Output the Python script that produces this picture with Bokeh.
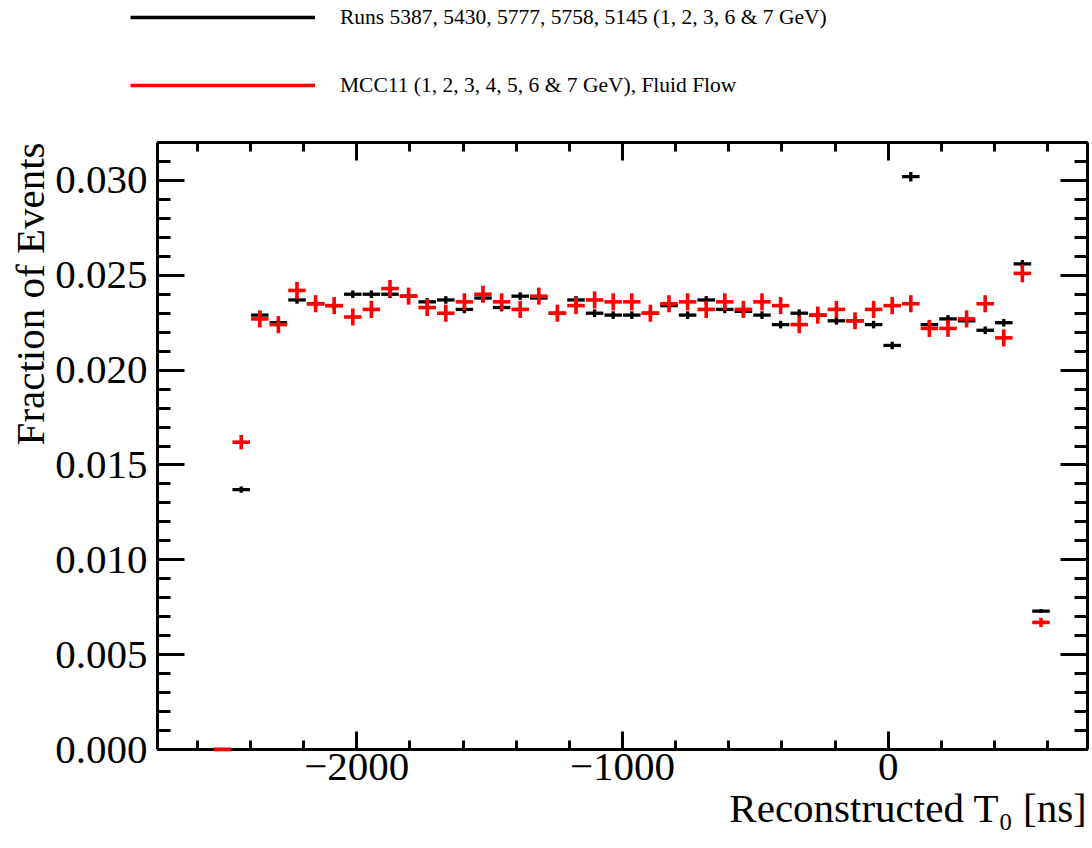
import numpy as np
from bokeh.plotting import figure
from bokeh.models import (Range1d, FixedTicker, LinearAxis, NumeralTickFormatter,
                          Title, Legend, LegendItem, ColumnDataSource, CustomLabelingPolicy)
from bokeh.embed import file_html
from bokeh.resources import INLINE

# ---------------- data ----------------
bin_centers = [-2505, -2435, -2365, -2295, -2225, -2155, -2085, -2015, -1945, -1875,
               -1805, -1735, -1665, -1595, -1525, -1455, -1385, -1315, -1245, -1175,
               -1105, -1035, -965, -895, -825, -755, -685, -615, -545, -475,
               -405, -335, -265, -195, -125, -55, 15, 85, 155, 225,
               295, 365, 435, 505, 575]
bin_half_width = 33

data_vals = [0.0, 0.0137, 0.0229, 0.0225, 0.0237, 0.0235, 0.0234, 0.0240, 0.0240, 0.0240,
             0.0239, 0.0236, 0.0237, 0.0232, 0.0238, 0.0233, 0.0239, 0.0238, 0.0230, 0.0237,
             0.0230, 0.0229, 0.0229, 0.0230, 0.0234, 0.0229, 0.0237, 0.0232, 0.0231, 0.0229,
             0.0224, 0.0230, 0.0229, 0.0226, 0.0226, 0.0224, 0.0213, 0.0302, 0.0224, 0.0227,
             0.0226, 0.0221, 0.0225, 0.0256, 0.0073]
data_errs = [0.0, 0.00016, 0.0002, 0.0002, 0.0002, 0.0002, 0.0002, 0.0002, 0.0002, 0.0002,
             0.0002, 0.0002, 0.0002, 0.0002, 0.0002, 0.0002, 0.0002, 0.0002, 0.0002, 0.0002,
             0.0002, 0.0002, 0.0002, 0.0002, 0.0002, 0.0002, 0.0002, 0.0002, 0.0002, 0.0002,
             0.0002, 0.0002, 0.0002, 0.0002, 0.0002, 0.0002, 0.0002, 0.00025, 0.0002, 0.0002,
             0.0002, 0.0002, 0.0002, 0.00021, 0.00011]

mc_vals = [0.0, 0.0162, 0.0227, 0.0224, 0.0242, 0.0235, 0.0234, 0.0228, 0.0232, 0.0243,
           0.0239, 0.0233, 0.0230, 0.0236, 0.0240, 0.0236, 0.0232, 0.0239, 0.0230, 0.0234,
           0.0237, 0.0236, 0.0236, 0.0230, 0.0235, 0.0236, 0.0232, 0.0236, 0.0232, 0.0236,
           0.0234, 0.0224, 0.0229, 0.0232, 0.0226, 0.0232, 0.0234, 0.0235, 0.0222, 0.0222,
           0.0227, 0.0235, 0.0217, 0.0251, 0.0067]
mc_errs = [0.0, 0.00038, 0.00045, 0.00045, 0.00045, 0.00045, 0.00045, 0.00045, 0.00045, 0.00045,
           0.00045, 0.00045, 0.00045, 0.00045, 0.00045, 0.00045, 0.00045, 0.00045, 0.00045, 0.00045,
           0.00045, 0.00045, 0.00045, 0.00045, 0.00045, 0.00045, 0.00045, 0.00045, 0.00045, 0.00045,
           0.00045, 0.00045, 0.00045, 0.00045, 0.00045, 0.00045, 0.00045, 0.00045, 0.00045, 0.00045,
           0.00045, 0.00045, 0.00045, 0.00047, 0.00024]

x_major_ticks = [-2000, -1000, 0]
x_tick_labels = {-2000: "\u22122000", -1000: "\u22121000", 0: "0"}
y_major_ticks = [0.0, 0.005, 0.010, 0.015, 0.020, 0.025, 0.030]

legend_labels = ["Runs 5387, 5430, 5777, 5758, 5145 (1, 2, 3, 6 & 7 GeV)",
                 "MCC11 (1, 2, 3, 4, 5, 6 & 7 GeV), Fluid Flow"]
x_title = "Reconstructed T\u2080 [ns]"
y_title = "Fraction of Events"

FONT = "Liberation Serif"

# ---------------- main figure ----------------
p = figure(width=1092, height=710, output_backend="svg", toolbar_location=None,
           x_range=Range1d(-2750, 750), y_range=Range1d(0, 0.032),
           min_border_left=157, min_border_right=5, min_border_top=4, min_border_bottom=99)
p.grid.visible = False
p.outline_line_color = None
p.background_fill_color = "white"
p.border_fill_color = "white"

x_minor = list(np.arange(-2600, 800, 200))
y_minor = list(np.round(np.arange(0, 0.0321, 0.001), 4))
xticker = FixedTicker(ticks=x_major_ticks, minor_ticks=x_minor)
yticker = FixedTicker(ticks=y_major_ticks, minor_ticks=y_minor)


def style_axis(ax, major_len, minor_len):
    ax.axis_line_width = 3
    ax.axis_line_color = "black"
    ax.major_tick_line_width = 3
    ax.minor_tick_line_width = 3
    ax.major_tick_in = major_len
    ax.major_tick_out = 0
    ax.minor_tick_in = minor_len
    ax.minor_tick_out = 0
    ax.major_label_text_font = FONT
    ax.major_label_text_font_size = "41px"
    ax.major_label_text_color = "black"


xa = p.xaxis[0]
xa.ticker = xticker
xa.major_label_overrides = x_tick_labels
style_axis(xa, 18, 9)
xa.major_label_standoff = 4

ya = p.yaxis[0]
ya.ticker = yticker
ya.formatter = NumeralTickFormatter(format="0.000")
style_axis(ya, 27, 13)
ya.major_label_standoff = 10

top = LinearAxis(ticker=xticker)
style_axis(top, 18, 9)
top.major_label_text_font_size = "1px"
top.major_label_standoff = 0
top.major_label_policy = CustomLabelingPolicy(code="return []")
p.add_layout(top, "above")

right = LinearAxis(ticker=yticker)
style_axis(right, 27, 13)
right.major_label_text_font_size = "1px"
right.major_label_standoff = 0
right.major_label_policy = CustomLabelingPolicy(code="return []")
p.add_layout(right, "right")

# axis titles (ROOT style: aligned to the end of the axis)
p.add_layout(Title(text=x_title, align="right", text_font=FONT, text_font_size="41px",
                   text_font_style="normal", text_color="black", standoff=0), "below")
p.add_layout(Title(text=y_title, align="right", text_font=FONT, text_font_size="41px",
                   text_font_style="normal", text_color="black", standoff=0), "left")

# ---------------- data marks ----------------
c = np.array(bin_centers, dtype=float)

def draw(vals, errs, color, lw, level="glyph"):
    v = np.array(vals)
    e = np.array(errs)
    src = ColumnDataSource(dict(x=c, xl=c - bin_half_width, xr=c + bin_half_width,
                                y=v, ylo=v - e, yhi=v + e))
    p.segment(x0="xl", x1="xr", y0="y", y1="y", source=src, line_color=color,
              line_width=lw, level=level)
    p.segment(x0="x", x1="x", y0="ylo", y1="yhi", source=src, line_color=color,
              line_width=lw, level=level)

draw(data_vals, data_errs, "black", 3.3)
draw(mc_vals, mc_errs, "#ff0000", 3.6, level="overlay")

# ---------------- legend strip (separate root above the main plot) ----------------
lg = figure(width=1092, height=138, output_backend="svg", toolbar_location=None,
            x_range=Range1d(0, 1), y_range=Range1d(0, 1),
            x_axis_location=None, y_axis_location=None, min_border=0)
lg.grid.visible = False
lg.outline_line_color = None
lg.background_fill_color = "white"
lg.border_fill_color = "white"

# legend-only renderers (their points lie outside the visible range)
r_black = lg.line(x=[5, 6], y=[5, 5], line_color="black", line_width=3.5)
r_red = lg.line(x=[5, 6], y=[5, 5], line_color="#ff0000", line_width=3.5)
legend = Legend(items=[LegendItem(label=legend_labels[0], renderers=[r_black]),
                       LegendItem(label=legend_labels[1], renderers=[r_red])],
                location=(130, 40), orientation="vertical",
                border_line_color=None, background_fill_alpha=0,
                margin=0, padding=0, spacing=42,
                glyph_width=185, glyph_height=26, label_height=26, label_standoff=25,
                label_text_font=FONT, label_text_font_size="21.5px",
                label_text_color="black")
lg.add_layout(legend)

open("out.html", "w").write(file_html([lg, p], INLINE))
